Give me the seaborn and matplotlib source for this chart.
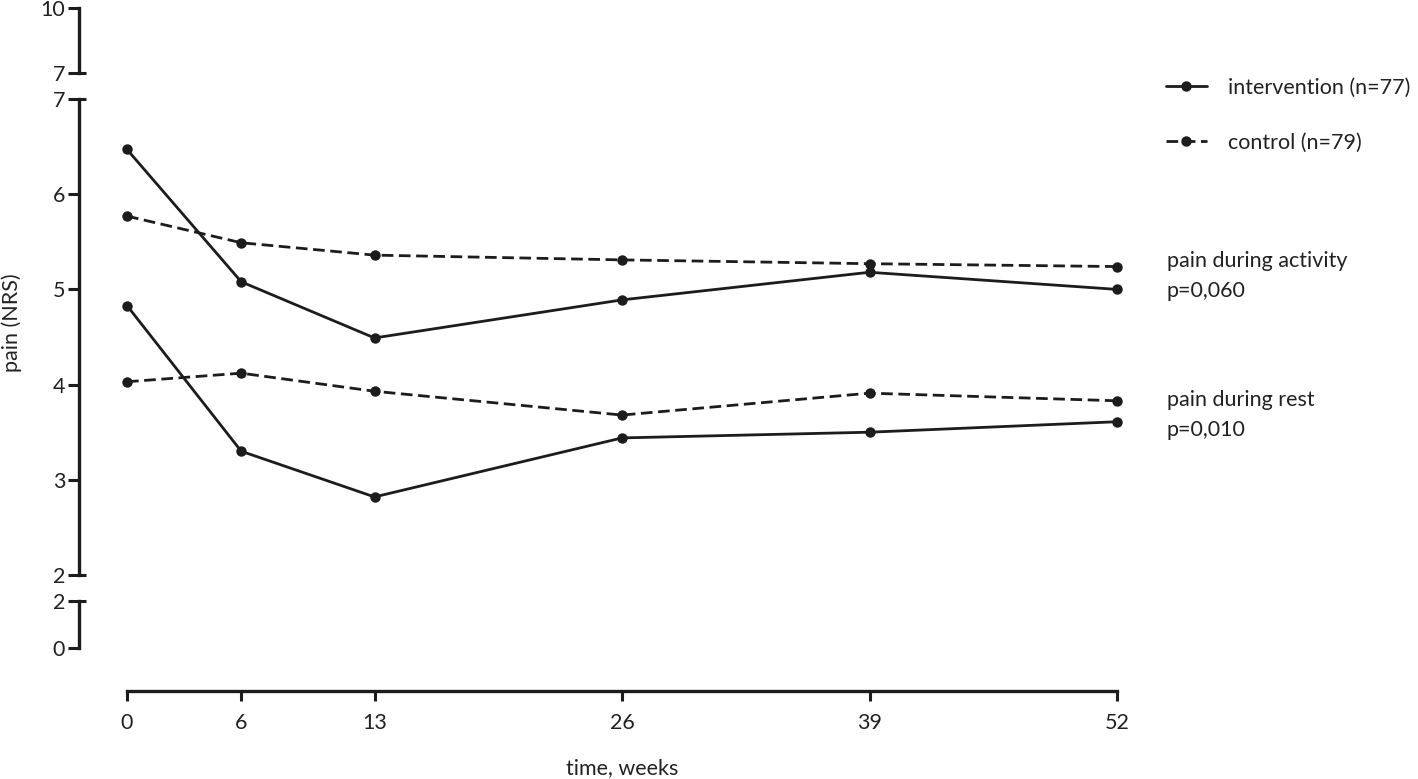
import matplotlib
matplotlib.use("Agg")
import matplotlib.pyplot as plt
import pandas as pd
import seaborn as sns

# pain scores (NRS)
weeks = [0, 6, 13, 26, 39, 52]
intervention_activity = [6.47, 5.08, 4.49, 4.89, 5.18, 5.00]
control_activity = [5.77, 5.49, 5.36, 5.31, 5.27, 5.24]
intervention_rest = [4.83, 3.30, 2.82, 3.44, 3.50, 3.61]
control_rest = [4.03, 4.12, 3.93, 3.68, 3.91, 3.83]

group_labels = ["intervention (n=77)", "control (n=79)"]
p_labels = {"activity": "pain during activity\np=0,060", "rest": "pain during rest\np=0,010"}

INK = "#1c1c1c"
TEXT = "#222222"
FS = 15.5
W, H = 1418, 779

sns.set_style("white")
plt.rcParams["font.family"] = ["Lato", "DejaVu Sans"]
plt.rcParams["text.color"] = TEXT
plt.rcParams["axes.labelcolor"] = TEXT
plt.rcParams["xtick.color"] = INK
plt.rcParams["ytick.color"] = INK
plt.rcParams["xtick.labelcolor"] = TEXT
plt.rcParams["ytick.labelcolor"] = TEXT
plt.rcParams["lines.linewidth"] = 2.0
plt.rcParams["lines.markersize"] = 7.5

rows = []
for measure, series in [("activity", [intervention_activity, control_activity]),
                        ("rest", [intervention_rest, control_rest])]:
    for label, values in zip(group_labels, series):
        for w, v in zip(weeks, values):
            rows.append({"week": w, "pain": v, "group": label, "measure": measure})
df = pd.DataFrame(rows)


def box(x0, y0, x1, y1):
    return [x0 / W, 1 - y1 / H, (x1 - x0) / W, (y1 - y0) / H]


fig = plt.figure(figsize=(W / 100, H / 100), dpi=100)
ax_top = fig.add_axes(box(127, 8, 1117, 73))
ax = fig.add_axes(box(127, 99, 1117, 575))
ax_bot = fig.add_axes(box(127, 601, 1117, 648))
ax_x = fig.add_axes(box(127, 681, 1117, 691))

sns.lineplot(data=df, x="week", y="pain", style="group", units="measure", estimator=None,
             color=INK, markers={g: "o" for g in group_labels},
             dashes={group_labels[0]: "", group_labels[1]: (4.2, 2)},
             linewidth=2.0, markersize=7.5, markeredgewidth=0, ax=ax)
for line in ax.lines:
    line.set_clip_on(False)

# broken y axis: three stacked pieces
for a, lim, ticks, caps in [(ax_top, (7, 10), [7, 10], [7]),
                            (ax, (2, 7), [2, 3, 4, 5, 6, 7], [2, 7]),
                            (ax_bot, (0, 2), [0, 2], [2])]:
    a.set_xlim(0, 52)
    a.set_ylim(*lim)
    a.set_xticks([])
    a.set_yticks(ticks)
    a.set_yticks(caps, minor=True)
    a.yaxis.remove_overlapping_locs = False
    a.set_xlabel("")
    a.set_ylabel("")
    a.patch.set_alpha(0)
    for s in ["top", "right", "bottom"]:
        a.spines[s].set_visible(False)
    a.spines["left"].set_position(("outward", 34.5))
    a.spines["left"].set_linewidth(2.4)
    a.spines["left"].set_color(INK)
    a.tick_params(axis="y", which="major", left=True, direction="out", length=8, width=2.2,
                  pad=2, labelsize=FS)
    a.tick_params(axis="y", which="minor", left=True, direction="in", length=5, width=2.2)

ax.set_ylabel("pain (NRS)", fontsize=FS)
ax.yaxis.set_label_coords(-0.106, 0.53)

# separate x axis below
ax_x.set_xlim(0, 52)
ax_x.set_yticks([])
ax_x.set_xticks(weeks)
ax_x.patch.set_alpha(0)
for s in ["top", "right", "left"]:
    ax_x.spines[s].set_visible(False)
ax_x.spines["bottom"].set_linewidth(2.4)
ax_x.spines["bottom"].set_color(INK)
ax_x.tick_params(axis="x", bottom=True, direction="out", length=7, width=2.2, pad=9, labelsize=FS)
ax_x.set_xlabel("time, weeks", fontsize=FS, labelpad=18)

sns.move_legend(ax, "upper left", bbox_to_anchor=(1166 / W, 1 - 78 / H),
                bbox_transform=fig.transFigure, title=None, frameon=False, fontsize=FS,
                handlelength=1.9, handletextpad=1.0, labelspacing=1.6,
                borderpad=0, borderaxespad=0)

for measure, ys, dy in [("activity", (intervention_activity, control_activity), 2),
                        ("rest", (intervention_rest, control_rest), -4)]:
    y_mid = (ys[0][-1] + ys[1][-1]) / 2
    ax.annotate(p_labels[measure], xy=(1, y_mid), xycoords=("axes fraction", "data"),
                xytext=(50, dy), textcoords="offset pixels", ha="left", va="center",
                linespacing=1.6, fontsize=FS, annotation_clip=False)

fig.savefig("out.png", dpi=100)
